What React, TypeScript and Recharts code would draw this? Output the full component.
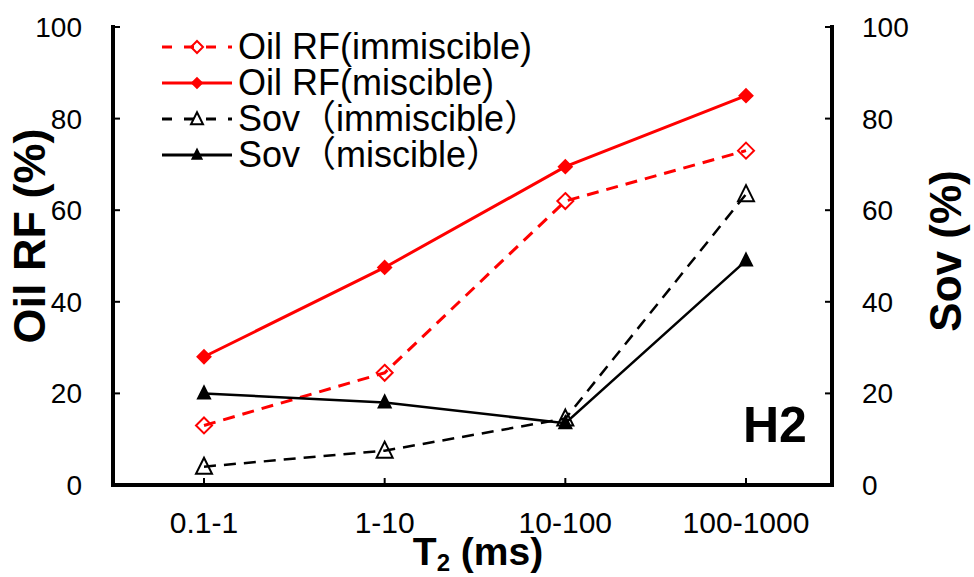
import { LineChart, Line, XAxis, YAxis, Label } from 'recharts';

const CATEGORIES = ['0.1-1', '1-10', '10-100', '100-1000'];
const OIL_RF_IMMISCIBLE = [13, 24.5, 62, 73];
const OIL_RF_MISCIBLE = [28, 47.5, 69.5, 85];
const SOV_IMMISCIBLE = [4, 7.5, 14.5, 63.5];
const SOV_MISCIBLE = [20, 18, 13.5, 49];
const Y_TICKS = [0, 20, 40, 60, 80, 100];

const RED = '#ff0000';
const BLACK = '#000000';
const FONT = '"Liberation Sans", Arial, "Noto Sans CJK SC", sans-serif';

const data = CATEGORIES.map((c, i) => ({
  t2: c,
  oilImm: OIL_RF_IMMISCIBLE[i],
  oilMis: OIL_RF_MISCIBLE[i],
  sovImm: SOV_IMMISCIBLE[i],
  sovMis: SOV_MISCIBLE[i],
}));

type Shape = 'diamond' | 'triangle';

const SERIES: { key: string; name: string; color: string; dashed: boolean; shape: Shape; filled: boolean; axis: string }[] = [
  { key: 'oilImm', name: 'Oil RF(immiscible)', color: RED, dashed: true, shape: 'diamond', filled: false, axis: 'left' },
  { key: 'oilMis', name: 'Oil RF(miscible)', color: RED, dashed: false, shape: 'diamond', filled: true, axis: 'left' },
  { key: 'sovImm', name: 'Sov（immiscible）', color: BLACK, dashed: true, shape: 'triangle', filled: false, axis: 'right' },
  { key: 'sovMis', name: 'Sov（miscible）', color: BLACK, dashed: false, shape: 'triangle', filled: true, axis: 'right' },
];

// hollow markers are drawn a bit larger than the filled ones, like the original
function Marker({ cx, cy, shape, filled, color, k = 1 }: { cx: number; cy: number; shape: Shape; filled: boolean; color: string; k?: number }) {
  if (shape === 'diamond') {
    const r = (filled ? 6.5 : 8) * k;
    return (
      <path
        d={`M${cx},${cy - r}L${cx + r},${cy}L${cx},${cy + r}L${cx - r},${cy}Z`}
        fill={filled ? color : 'none'}
        stroke={color}
        strokeWidth={2}
      />
    );
  }
  const w = (filled ? 6 : 8) * k;
  const top = (filled ? 7 : 9) * k;
  const bot = (filled ? 5 : 7) * k;
  return (
    <path
      d={`M${cx},${cy - top}L${cx + w},${cy + bot}L${cx - w},${cy + bot}Z`}
      fill={filled ? color : 'none'}
      stroke={color}
      strokeWidth={2}
      strokeLinejoin="miter"
    />
  );
}

const tickStyle = { fontSize: 28, fill: '#000', fontFamily: FONT };
const axisLine = { stroke: '#000', strokeWidth: 4, strokeLinecap: 'square' as const };
const tickLine = { stroke: '#000', strokeWidth: 2 };

export default function App() {
  return (
    <div style={{ position: 'absolute', left: 0, top: 0, width: 974, height: 577, background: '#fff', fontFamily: FONT }}>
      <LineChart width={974} height={577} data={data} margin={{ top: 27, right: 0, bottom: 0, left: 0 }}>
        <XAxis xAxisId="top" orientation="top" dataKey="t2" height={0} tick={false} tickLine={false} axisLine={axisLine} />
        <XAxis
          dataKey="t2"
          height={92}
          padding={{ left: 91, right: 86 }}
          tick={{ ...tickStyle, fontSize: 30 }}
          tickSize={-7}
          tickMargin={34}
          tickLine={tickLine}
          axisLine={axisLine}
        >
          <Label
            content={() => (
              <text x={478} y={565} textAnchor="middle" fontFamily={FONT} fontWeight="bold" fontSize={39} fill="#000">
                T<tspan fontSize={24} dy={6}>2</tspan>
                <tspan dy={-6}> (ms)</tspan>
              </text>
            )}
          />
        </XAxis>
        <YAxis
          yAxisId="left"
          width={113}
          domain={[0, 100]}
          ticks={Y_TICKS}
          tick={tickStyle}
          tickSize={-7}
          tickMargin={38}
          tickLine={tickLine}
          axisLine={axisLine}
        >
          <Label
            content={() => (
              <text transform="translate(29,236) rotate(-90)" textAnchor="middle" dy="0.35em" fontFamily={FONT} fontWeight="bold" fontSize={45} fill="#000">
                Oil RF (%)
              </text>
            )}
          />
        </YAxis>
        <YAxis
          yAxisId="right"
          orientation="right"
          width={142}
          domain={[0, 100]}
          ticks={Y_TICKS}
          tick={tickStyle}
          tickSize={-7}
          tickMargin={37}
          tickLine={tickLine}
          axisLine={axisLine}
        >
          <Label
            content={() => (
              <text transform="translate(946,251) rotate(-90)" textAnchor="middle" dy="0.35em" fontFamily={FONT} fontWeight="bold" fontSize={44} fill="#000">
                Sov (%)
              </text>
            )}
          />
        </YAxis>
        {SERIES.map((s) => (
          <Line
            key={s.key}
            yAxisId={s.axis}
            dataKey={s.key}
            name={s.name}
            stroke={s.color}
            strokeWidth={s.color === RED ? 3 : 2.5}
            strokeDasharray={s.dashed ? '12 8' : undefined}
            dot={(p: any) => <Marker key={p.index} cx={p.cx} cy={p.cy} shape={s.shape} filled={s.filled} color={s.color} />}
            activeDot={false}
            isAnimationActive={false}
          />
        ))}
      </LineChart>

      <div style={{ position: 'absolute', left: 162, top: 29 }}>
        {SERIES.map((s) => (
          <div key={s.key} style={{ display: 'flex', alignItems: 'center', height: 36 }}>
            <svg width={70} height={20} style={{ marginRight: 6 }}>
              <line x1={0} y1={10} x2={70} y2={10} stroke={s.color} strokeWidth={3} strokeDasharray={s.dashed ? '10 12' : undefined} />
              <Marker cx={35} cy={10} shape={s.shape} filled={s.filled} color={s.color} k={0.75} />
            </svg>
            <span style={{ fontSize: 36, lineHeight: '36px', color: '#000', whiteSpace: 'nowrap' }}>{s.name}</span>
          </div>
        ))}
      </div>

      <div style={{ position: 'absolute', left: 743, top: 400, fontSize: 50, lineHeight: 1, fontWeight: 'bold', color: '#000' }}>H2</div>
    </div>
  );
}
